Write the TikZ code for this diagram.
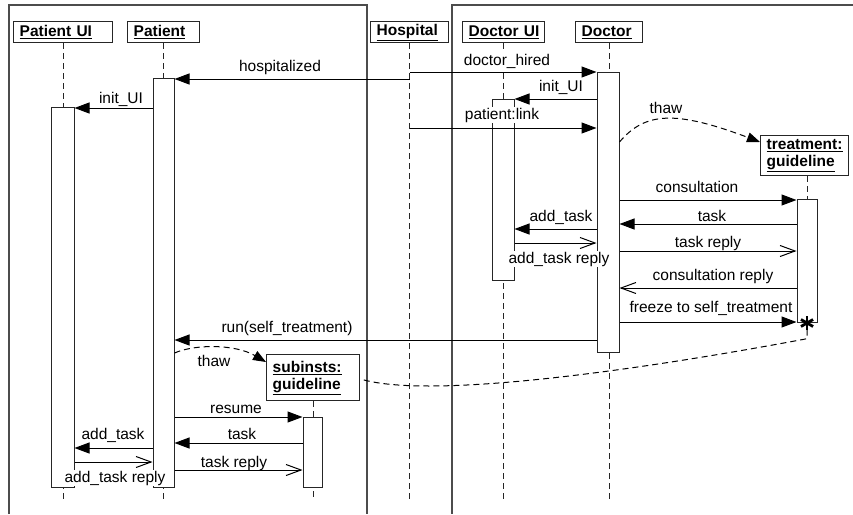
\documentclass[tikz,border=0pt]{standalone}
\usepackage{fontspec}
\setmainfont{Liberation Sans}
\usetikzlibrary{arrows.meta}
\begin{document}
\begin{tikzpicture}[x=1pt,y=-1pt,
  every node/.style={font=\fontsize{15.5}{17}\selectfont},
  frame/.style={line width=1.6pt, draw=black!70},
  hdr/.style={draw=black!85, line width=1.4pt, fill=white, anchor=north west, minimum height=21pt, inner xsep=6pt, inner ysep=0pt, align=left, font=\fontsize{15.5}{17}\selectfont\bfseries},
  act/.style={draw=black!85, line width=1pt, fill=white, inner sep=0pt},
  life/.style={draw=black!85, line width=1pt, dash pattern=on 6pt off 4pt},
  msg/.style={draw=black, line width=1pt, -{Triangle[length=15pt,width=11pt]}},
  rep/.style={draw=black, line width=1pt, -{Straight Barb[length=15pt,width=11pt,line width=1pt]}},
  lbl/.style={anchor=base, fill=white, inner sep=1pt},
  plainlbl/.style={anchor=base, inner sep=1pt},
  flow/.style={draw=black, line width=1pt, dash pattern=on 6pt off 4pt},
  flowtip/.style={-{Triangle[length=13pt,width=10pt]}}
]
\useasboundingbox (0,0) rectangle (853,514);
% frames
\draw[frame] (9,514) -- (9,5) -- (367,5) -- (367,514);
\draw[frame] (853,5) -- (452,5) -- (452,514);
% headers
\node[hdr, text width=87pt] (pui) at (13,21) {\underline{Patient UI}};
\node[hdr, text width=60pt] (pat) at (127,21) {\underline{Patient}};
\node[hdr, text width=66pt] (hosp) at (370,21) {\underline{Hospital}};
\node[hdr, text width=70pt] (dui) at (462,21) {\underline{Doctor UI}};
\node[hdr, text width=55pt] (doc) at (575,21) {\underline{Doctor}};
\node[hdr, text width=76pt, minimum height=40pt] (treat) at (760,135) {\underline{treatment:}\\\underline{guideline}};
\node[hdr, text width=81pt, minimum height=46pt] (sub) at (266,354) {\underline{subinsts:}\\\underline{guideline}};
% lifelines
\draw[life] (pui.south) -- (pui.south |- 0,501);
\draw[life] (pat.south) -- (pat.south |- 0,501);
\draw[life] (hosp.south) -- (hosp.south |- 0,501);
\draw[life] (dui.south) -- (dui.south |- 0,501);
\draw[life] (doc.south) -- (doc.south |- 0,501);
\draw[life] (sub.south) -- (sub.south |- 0,501);
% activations
\node[act, minimum width=23pt, minimum height=380pt] (puact) at (62.5,297) {};
\node[act, minimum width=21pt, minimum height=409pt] (pact) at (163.5,282.5) {};
\node[act, minimum width=22pt, minimum height=181pt] (duact) at (503,189.5) {};
\node[act, minimum width=22pt, minimum height=280pt] (dact) at (608,212) {};
\node[act, minimum width=20pt, minimum height=123pt] (tact) at (807,260.5) {};
\node[act, minimum width=19pt, minimum height=70pt] (sact) at (312.5,452) {};
\draw[life] (tact.north |- treat.south) -- (tact.north);
% destruction mark
\node[inner sep=0pt, minimum size=13pt] (star) at (807,323) {};
\foreach \a in {90,30,150}
  \draw[line width=2.8pt] ([shift={(\a:7)}]star.center) -- ([shift={(\a+180:7)}]star.center);
% messages
\draw[msg] (hosp |- 0,79) -- (pact.east |- 0,79);
\draw[msg] (pact.west |- 0,108) -- (puact.east |- 0,108);
\draw[msg] (hosp |- 0,72) -- (dact.west |- 0,72);
\draw[msg] (dact.west |- 0,99) -- (duact.east |- 0,99);
\draw[msg] (hosp |- 0,128) -- (dact.west |- 0,128);
\draw[flow, flowtip] (dact.east |- 0,142) .. controls (645,112) and (675,110) .. (treat.west |- 0,142);
\draw[msg] (dact.east |- 0,200) -- (tact.west |- 0,200);
\draw[msg] (tact.west |- 0,224) -- (dact.east |- 0,224);
\draw[msg] (dact.west |- 0,229) -- (duact.east |- 0,229);
\draw[rep] (duact.east |- 0,243) -- (dact.west |- 0,243);
\draw[rep] (dact.east |- 0,251) -- (tact.west |- 0,251);
\draw[rep] (tact.west |- 0,288) -- (dact.east |- 0,288);
\draw[msg] (dact.east |- 0,322) -- (tact.west |- 0,322);
\draw[msg] (dact.west |- 0,340) -- (pact.east |- 0,340);
\draw[flow] (star.south) -- ++(0,9) .. controls (640,370) and (430,400) .. (sub.east |- 0,379);
\draw[flow, flowtip] (pact.east |- 0,353) .. controls (195,344) and (235,344) .. (sub.west |- 0,362);
\draw[msg] (pact.east |- 0,417) -- (sact.west |- 0,417);
\draw[msg] (sact.west |- 0,443) -- (pact.east |- 0,443);
\draw[msg] (pact.west |- 0,448) -- (puact.east |- 0,448);
\draw[rep] (puact.east |- 0,462) -- (pact.west |- 0,462);
\draw[rep] (pact.east |- 0,470) -- (sact.west |- 0,470);
% labels
\node[plainlbl] (l1) at (280,71) {hospitalized};
\node[plainlbl] (l2) at (121,103) {init\_UI};
\node[lbl] (l3) at (507,65) {doctor\_hired};
\node[plainlbl] (l4) at (561,91) {init\_UI};
\node[lbl] (l5) at (502,119) {patient:link};
\node[plainlbl] (l6) at (666,113) {thaw};
\node[plainlbl] (l7) at (697,192) {consultation};
\node[plainlbl] (l8) at (712,221) {task};
\node[plainlbl] (l9) at (561,221) {add\_task};
\node[plainlbl] (l10) at (708,247) {task reply};
\node[lbl] (l11) at (559,263) {add\_task reply};
\node[plainlbl] (l12) at (713,280) {consultation reply};
\node[plainlbl] (l13) at (711,312) {freeze to self\_treatment};
\node[plainlbl] (l14) at (287,332) {run(self\_treatment)};
\node[plainlbl] (l15) at (214,366) {thaw};
\node[plainlbl] (l16) at (236,413) {resume};
\node[plainlbl] (l17) at (242,439) {task};
\node[plainlbl] (l18) at (113,439) {add\_task};
\node[plainlbl] (l19) at (234,467) {task reply};
\node[lbl] (l20) at (115,482) {add\_task reply};
\end{tikzpicture}
\end{document}
